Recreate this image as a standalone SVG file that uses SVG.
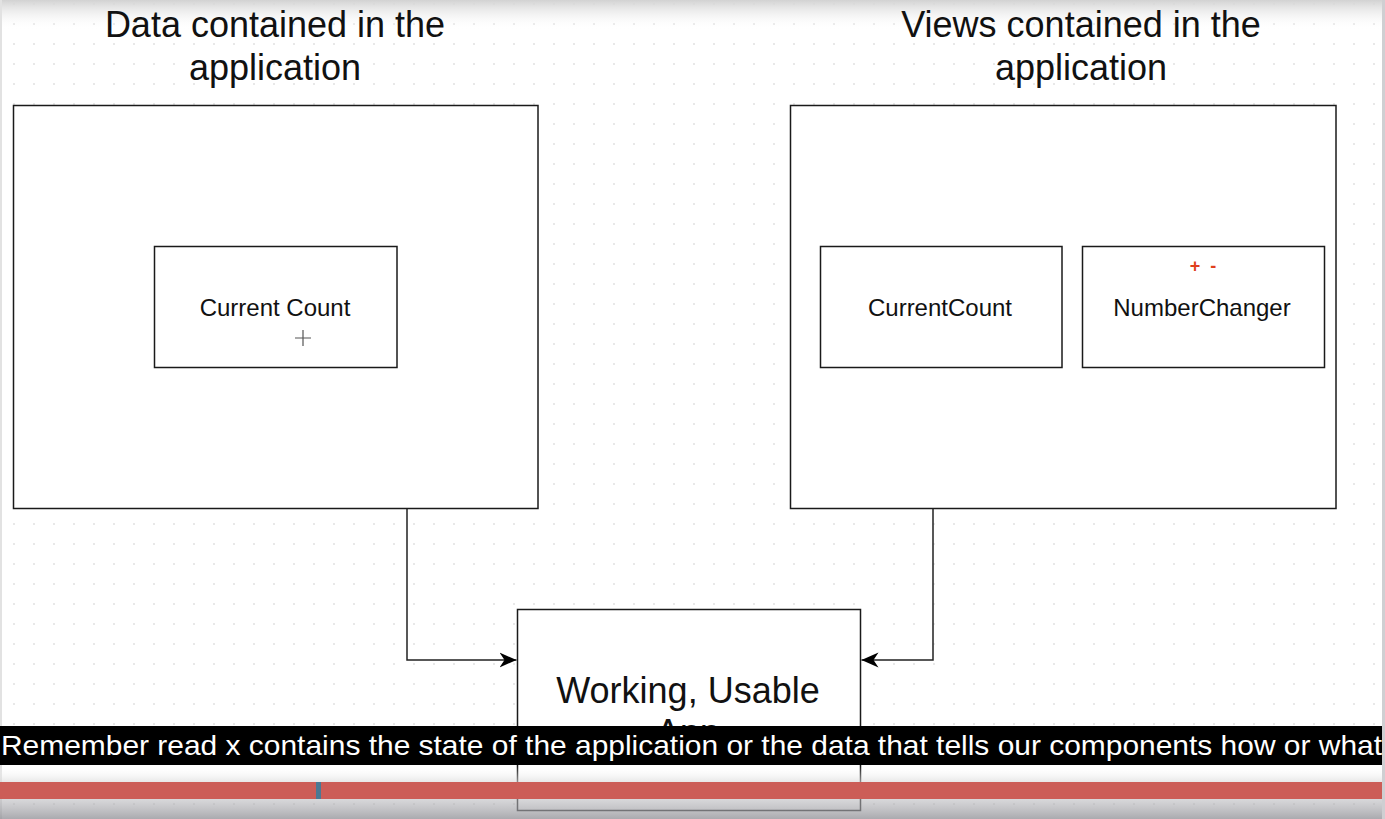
<svg xmlns="http://www.w3.org/2000/svg" width="1385" height="819" viewBox="0 0 1385 819">
<defs>
<pattern id="grid" x="0" y="0" width="20" height="20" patternUnits="userSpaceOnUse">
<rect x="13.3" y="3.3" width="1.4" height="1.4" fill="#cfcfcf"/>
</pattern>
<linearGradient id="topShade" x1="0" y1="0" x2="0" y2="1">
<stop offset="0" stop-color="#d2d2d2"/>
<stop offset="1" stop-color="#ffffff" stop-opacity="0"/>
</linearGradient>
<linearGradient id="botShade" x1="0" y1="0" x2="0" y2="1">
<stop offset="0" stop-color="#ffffff" stop-opacity="0"/>
<stop offset="1" stop-color="#d8d8d8" stop-opacity="0.6"/>
</linearGradient>
<linearGradient id="barShade" x1="0" y1="0" x2="0" y2="1">
<stop offset="0" stop-color="#b8b8bc" stop-opacity="0.55"/>
<stop offset="1" stop-color="#8e8e94" stop-opacity="0.75"/>
</linearGradient>
<marker id="arrow" markerWidth="18" markerHeight="16" refX="17" refY="8" orient="auto" markerUnits="userSpaceOnUse">
<path d="M0,0.5 L17,8 L0,15.5 L5,8 Z" fill="#000"/>
</marker>
<style>
.box{fill:#fff;stroke:#1a1a1a;stroke-width:1.5}
.title{font-family:"Liberation Sans",Arial,sans-serif;font-size:36px;fill:#111;text-anchor:middle}
.label{font-family:"Liberation Sans",Arial,sans-serif;font-size:24px;fill:#111;text-anchor:middle}
.conn{fill:none;stroke:#222;stroke-width:1.5}
.sub{font-family:"Liberation Sans",Arial,sans-serif;font-size:28px;fill:#fff}
</style>
</defs>
<rect width="1385" height="819" fill="#fff"/>
<rect width="1385" height="819" fill="url(#grid)"/>
<rect x="0" y="0" width="1385" height="30" fill="url(#topShade)"/>
<rect x="0" y="0" width="2" height="819" fill="#e2e2e2"/>

<g id="title-data">
<text class="title" x="275" y="37">Data contained in the</text>
<text class="title" x="275" y="80">application</text>
</g>
<g id="title-views">
<text class="title" x="1081" y="37">Views contained in the</text>
<text class="title" x="1081" y="80">application</text>
</g>

<g id="data-container">
<rect class="box" x="13.5" y="105.5" width="524.5" height="403"/>
</g>
<g id="views-container">
<rect class="box" x="790.5" y="105.5" width="545.5" height="403"/>
</g>

<g id="current-count-data">
<rect class="box" x="154.5" y="246.5" width="242.5" height="121"/>
<text class="label" x="275" y="316">Current Count</text>
</g>
<g id="cursor">
<path d="M303,330 V346 M295,338 H311" stroke="#555" stroke-width="1.2" fill="none"/>
</g>

<g id="current-count-view">
<rect class="box" x="820.5" y="246.5" width="241.5" height="121"/>
<text class="label" x="940" y="316">CurrentCount</text>
</g>

<g id="number-changer">
<rect class="box" x="1082.5" y="246.5" width="242" height="121"/>
<text x="1203" y="272" font-family="Liberation Sans, Arial, sans-serif" font-size="18" font-weight="bold" fill="#e0401c" text-anchor="middle" xml:space="preserve">+  -</text>
<text class="label" x="1202" y="316">NumberChanger</text>
</g>

<g id="app">
<rect class="box" x="517.5" y="609.5" width="343" height="201"/>
<text class="title" x="688" y="703">Working, Usable</text>
<text class="title" x="688" y="745">App</text>
</g>

<g id="connectors">
<path class="conn" d="M407,508.5 V660 H516.5" marker-end="url(#arrow)"/>
<path class="conn" d="M933,508.5 V660 H861.5" marker-end="url(#arrow)"/>
</g>

<g id="overlay">
<rect x="0" y="766" width="1385" height="16" fill="url(#botShade)"/>
<rect x="0" y="726" width="1383" height="39" fill="#000"/>
<text class="sub" x="1" y="755" textLength="1381" lengthAdjust="spacingAndGlyphs">Remember read x contains the state of the application or the data that tells our components how or what</text>
<rect x="0" y="799" width="1385" height="20" fill="url(#barShade)"/>
<rect x="0" y="782" width="1385" height="17" fill="#cc5d57"/>
<rect x="316" y="782" width="5" height="17" fill="#4b7893"/>
<rect x="1382" y="0" width="3" height="819" fill="#cfcfd2"/>
</g>
</svg>
